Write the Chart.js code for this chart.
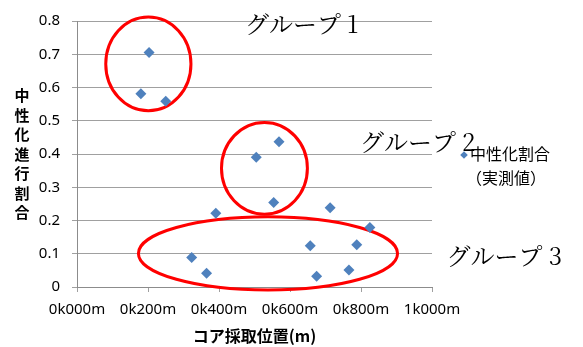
<!DOCTYPE html>
<html>
<head>
<meta charset="utf-8">
<script src="https://cdn.jsdelivr.net/npm/chart.js@4/dist/chart.umd.min.js"></script>
<style>
  html, body { margin: 0; padding: 0; background: #fff; }
  #wrap { width: 583px; height: 347px; }
</style>
</head>
<body>
<div id="wrap"><canvas id="c" width="583" height="347"></canvas></div>
<script>
// コア採取位置 (m) と 中性化割合（実測値）
const positions = [180, 203, 250, 323, 365, 391, 505, 554, 569, 657, 675, 713, 766, 788, 825];
const ratios    = [0.581, 0.705, 0.559, 0.089, 0.041, 0.222, 0.390, 0.254, 0.437, 0.124, 0.032, 0.238, 0.051, 0.127, 0.179];

const xTickLabels = ['0k000m', '0k200m', '0k400m', '0k600m', '0k800m', '1k000m'];
const seriesLabel = ['中性化割合', '（実測値）'];
const yTitle = '中性化進行割合';
const xTitle = 'コア採取位置(m)';

// グループ分けの楕円（軸の単位で指定）
const groups = [
  { name: 'グループ 1', cx: 201, cy: 0.671, rx: 120, ry: 0.141, tx: 473, ty: 0.791 },
  { name: 'グループ 2', cx: 528, cy: 0.357, rx: 121, ry: 0.138, tx: 797, ty: 0.437 },
  { name: 'グループ 3', cx: 538, cy: 0.101, rx: 365, ry: 0.110, tx: 1041, ty: 0.095 }
];

const points = positions.map((x, i) => ({ x: x, y: ratios[i] }));
const BLUE = '#4f81bd';
const JP = '"Noto Sans CJK JP", "Noto Sans", sans-serif';

const overlay = {
  id: 'overlay',
  beforeDatasetsDraw(chart) {
    const { ctx, scales: { x, y } } = chart;
    ctx.save();
    ctx.strokeStyle = '#ff0000';
    ctx.lineWidth = 3;
    groups.forEach(g => {
      const px = x.getPixelForValue(g.cx);
      const py = y.getPixelForValue(g.cy);
      const rx = Math.abs(x.getPixelForValue(g.cx + g.rx) - px);
      const ry = Math.abs(y.getPixelForValue(g.cy + g.ry) - py);
      ctx.beginPath();
      ctx.ellipse(px, py, rx, ry, 0, 0, Math.PI * 2);
      ctx.stroke();
    });
    ctx.restore();
  },
  afterDraw(chart) {
    const { ctx, chartArea, scales: { x, y } } = chart;
    ctx.save();
    // グループ名
    ctx.fillStyle = '#000';
    ctx.textBaseline = 'middle';
    ctx.textAlign = 'left';
    ctx.font = '24px "Noto Serif CJK JP", "Liberation Serif", "Noto Sans CJK JP", serif';
    groups.forEach(g => {
      ctx.fillText(g.name, x.getPixelForValue(g.tx), y.getPixelForValue(g.ty));
    });

    // 縦書きの軸タイトル
    ctx.font = 'bold 15px ' + JP;
    ctx.textAlign = 'center';
    const chars = Array.from(yTitle);
    const midY = (chartArea.top + chartArea.bottom) / 2;
    const step = 19.5;
    chars.forEach((ch, i) => {
      ctx.fillText(ch, 22, midY + (i - (chars.length - 1) / 2) * step);
    });

    // 凡例
    const lx = chartArea.right + 32;
    const ly = 155;
    const r = 3.8;
    ctx.fillStyle = BLUE;
    ctx.beginPath();
    ctx.moveTo(lx - r, ly);
    ctx.lineTo(lx, ly - r);
    ctx.lineTo(lx + r, ly);
    ctx.lineTo(lx, ly + r);
    ctx.closePath();
    ctx.fill();
    ctx.fillStyle = '#000';
    ctx.textAlign = 'left';
    ctx.font = '16px ' + JP;
    ctx.fillText(seriesLabel[0], lx + 6, ly - 1);
    ctx.fillText(seriesLabel[1], lx + 2, ly + 23);
    ctx.restore();
  }
};

new Chart(document.getElementById('c'), {
  type: 'scatter',
  data: {
    datasets: [{
      label: seriesLabel.join(''),
      data: points,
      pointStyle: 'rectRot',
      pointRadius: 5.5,
      pointHoverRadius: 5.5,
      pointBackgroundColor: BLUE,
      pointBorderColor: BLUE,
      pointBorderWidth: 0
    }]
  },
  options: {
    responsive: false,
    animation: false,
    events: [],
    layout: { padding: { left: 0, right: 151, top: 18, bottom: 0 } },
    plugins: {
      legend: { display: false },
      tooltip: { enabled: false }
    },
    scales: {
      x: {
        type: 'linear',
        min: 0,
        max: 1000,
        afterBuildTicks(scale) {
          scale.ticks = xTickLabels.map((_, i) => ({ value: i * 200 }));
        },
        afterFit(scale) { scale.height = 60; },
        grid: { display: true, drawOnChartArea: false, drawTicks: true, tickLength: 5, color: '#a0a0a0' },
        border: { display: true, color: '#8c8c8c' },
        ticks: {
          padding: 9,
          color: '#000',
          font: { family: '"Noto Sans", sans-serif', size: 15 },
          maxRotation: 0,
          autoSkip: false,
          callback: (v) => xTickLabels[Math.round(v / 200)]
        },
        title: {
          display: true,
          text: xTitle,
          color: '#000',
          font: { family: JP, size: 16, weight: 'bold' },
          padding: { top: 0, bottom: 1 }
        }
      },
      y: {
        min: 0,
        max: 0.8,
        afterFit(scale) { scale.width = 77; },
        grid: { display: true, drawOnChartArea: true, drawTicks: true, tickLength: 5, color: '#a0a0a0' },
        border: { display: true, color: '#8c8c8c' },
        ticks: {
          stepSize: 0.1,
          padding: 12,
          color: '#000',
          font: { family: '"Noto Sans", sans-serif', size: 15 },
          callback: (v) => String(Math.round(v * 10) / 10)
        }
      }
    }
  },
  plugins: [overlay]
});
</script>
</body>
</html>
